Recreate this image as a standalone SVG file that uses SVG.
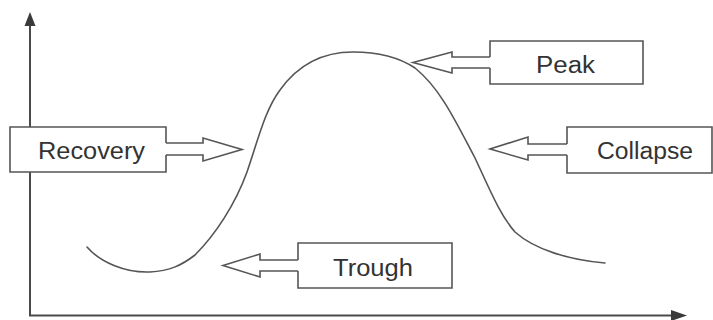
<svg xmlns="http://www.w3.org/2000/svg" width="713" height="320" viewBox="0 0 713 320">
<style>
.ax{stroke:#4a4a4a;stroke-width:2;fill:none}
.ah{fill:#3a3a3a;stroke:none}
.box{fill:#fff;stroke:#555;stroke-width:1.6}
.arr{fill:#fff;stroke:#555;stroke-width:1.6;stroke-linejoin:miter}
.curve{fill:none;stroke:#555;stroke-width:1.6;stroke-linecap:round}
.lbl{font-family:"Liberation Sans",Arial,sans-serif;font-size:23px;fill:#333}
</style>
<rect width="713" height="320" fill="#fff"/>
<g id="axes">
<line class="ax" x1="30" y1="316" x2="30" y2="22"/>
<polygon class="ah" points="30,12 24.5,26 35.5,26"/>
<line class="ax" x1="29" y1="315.5" x2="676" y2="315.5"/>
<polygon class="ah" points="687,315.5 671,310 671,321"/>
</g>
<g id="curve">
<path class="curve" d="M87,247 C100,262 125,273 150,272 C170,271 182,265 195,255 C215,235 235,205 247,172 C258,140 265,110 280,90 C300,62 325,52 353,52 C380,52 400,58 415,68 C440,88 455,120 475,158 C490,190 500,215 515,232 C535,250 570,260 605,263"/>
</g>
<g id="connectors">
<path class="arr" d="M166,143 H203 V138 L242,149.5 L203,161 V155 H166"/>
<path class="arr" d="M490,57 H452 V52 L413,62.5 L452,73 V68 H490"/>
<path class="arr" d="M567,144 H528 V137 L490,149 L528,160 V155 H567"/>
<path class="arr" d="M298,260 H260 V254 L223,265.5 L260,277 V271 H298"/>
</g>
<g id="recovery">
<path class="box" d="M166,143 V127 H10 V172 H166 V155"/>
<text class="lbl" x="38" y="159" textLength="107" lengthAdjust="spacingAndGlyphs">Recovery</text>
</g>
<g id="peak">
<path class="box" d="M490,57 V41 H643 V84 H490 V68"/>
<text class="lbl" x="536" y="73" textLength="59" lengthAdjust="spacingAndGlyphs">Peak</text>
</g>
<g id="collapse">
<path class="box" d="M567,144 V127 H712 V173 H567 V155"/>
<text class="lbl" x="597" y="159" textLength="96" lengthAdjust="spacingAndGlyphs">Collapse</text>
</g>
<g id="trough">
<path class="box" d="M298,260 V243 H452 V288 H298 V271"/>
<text class="lbl" x="333" y="276" textLength="80" lengthAdjust="spacingAndGlyphs">Trough</text>
</g>
</svg>
